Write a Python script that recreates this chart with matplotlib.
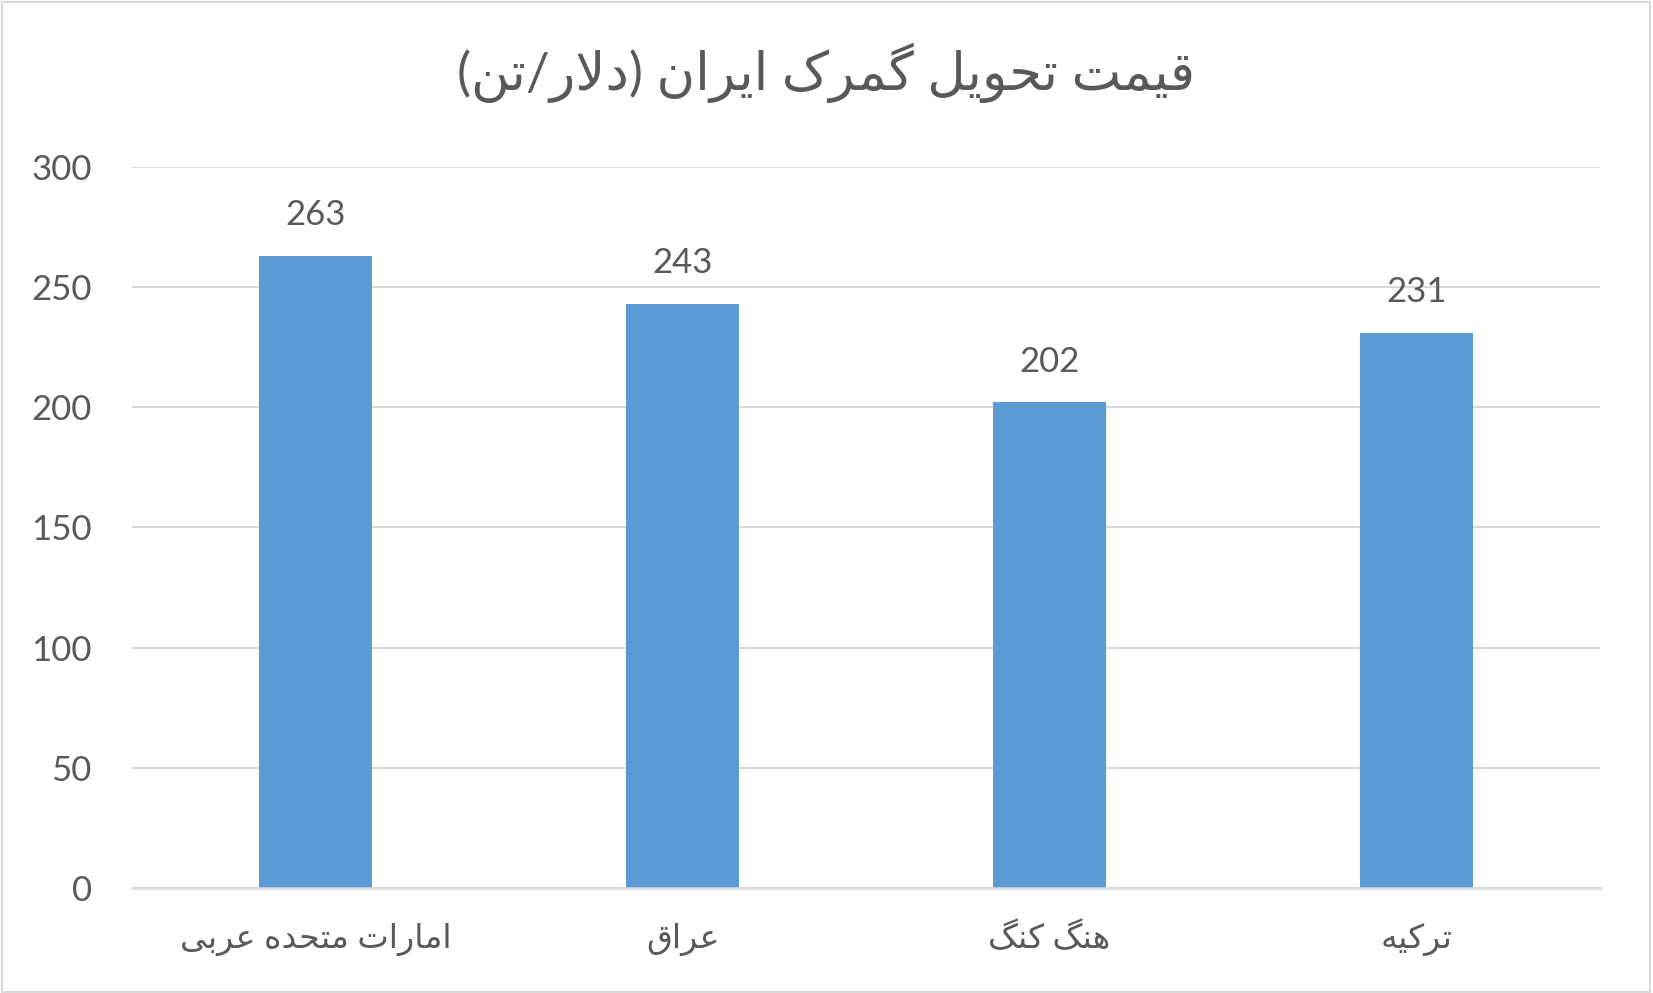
import matplotlib
matplotlib.use("Agg")
import matplotlib.pyplot as plt
from matplotlib.patches import Rectangle

title = "قیمت تحویل گمرک ایران (دلار/تن)"
categories = ["امارات متحده عربی", "عراق", "هنگ کنگ", "ترکیه"]
values = [263, 243, 202, 231]
yticks = [0, 50, 100, 150, 200, 250, 300]

# arabic presentation forms: isolated, final, initial, medial
FORMS = {
    'ا': ('\uFE8D', '\uFE8E', None, None),
    'ب': ('\uFE8F', '\uFE90', '\uFE91', '\uFE92'),
    'ت': ('\uFE95', '\uFE96', '\uFE97', '\uFE98'),
    'ح': ('\uFEA1', '\uFEA2', '\uFEA3', '\uFEA4'),
    'د': ('\uFEA9', '\uFEAA', None, None),
    'ر': ('\uFEAD', '\uFEAE', None, None),
    'ع': ('\uFEC9', '\uFECA', '\uFECB', '\uFECC'),
    'ق': ('\uFED5', '\uFED6', '\uFED7', '\uFED8'),
    'ل': ('\uFEDD', '\uFEDE', '\uFEDF', '\uFEE0'),
    'م': ('\uFEE1', '\uFEE2', '\uFEE3', '\uFEE4'),
    'ن': ('\uFEE5', '\uFEE6', '\uFEE7', '\uFEE8'),
    'ه': ('\uFEE9', '\uFEEA', '\uFEEB', '\uFEEC'),
    'و': ('\uFEED', '\uFEEE', None, None),
    'ک': ('\uFB8E', '\uFB8F', '\uFB90', '\uFB91'),
    'گ': ('\uFB92', '\uFB93', '\uFB94', '\uFB95'),
    'ی': ('\uFBFC', '\uFBFD', '\uFBFE', '\uFBFF'),
}


def joins_next(c):
    return c in FORMS and FORMS[c][2] is not None


def shape(text):
    res = []
    n = len(text)
    i = 0
    while i < n:
        c = text[i]
        if c not in FORMS:
            res.append(c)
            i += 1
            continue
        prev = text[i - 1] if i > 0 else None
        cp = prev is not None and joins_next(prev)
        if c == 'ل' and i + 1 < n and text[i + 1] == 'ا':
            res.append('\uFEFC' if cp else '\uFEFB')
            i += 2
            continue
        nxt = text[i + 1] if i + 1 < n else None
        cn = joins_next(c) and nxt in FORMS
        iso, fin, ini, med = FORMS[c]
        if cp and cn:
            g = med
        elif cp:
            g = fin
        elif cn:
            g = ini
        else:
            g = iso
        res.append(g)
        i += 1
    vis = ''.join(reversed(res))
    return vis.translate(str.maketrans('()', ')('))


text_color = '#595959'
grid_color = '#D9D9D9'
bar_color = '#5B9BD5'
fonts = ['Lato', 'DejaVu Sans']

fig = plt.figure(figsize=(16.53, 9.93), dpi=100)
ax = fig.add_axes([0.0799, 0.1057, 0.968 - 0.0799, 0.832 - 0.1057])

x = list(range(len(categories)))
bars = ax.bar(x, values, width=0.31, color=bar_color, zorder=2)

ax.set_xlim(-0.5, len(categories) - 0.5)
ax.set_ylim(0, 300)
ax.set_yticks(yticks)
ax.set_yticklabels([str(t) for t in yticks], family=fonts, fontsize=25, color=text_color)
ax.set_xticks(x)
ax.set_xticklabels([shape(c) for c in categories], family=fonts, fontsize=24, color=text_color)
ax.tick_params(axis='y', length=0, pad=29)
ax.tick_params(axis='x', length=0, pad=25)
ax.yaxis.grid(True, color=grid_color, lw=1.5, zorder=0)
ax.set_axisbelow(True)
for s in ['top', 'right', 'left']:
    ax.spines[s].set_visible(False)
ax.spines['bottom'].set_color(grid_color)
ax.spines['bottom'].set_linewidth(1.8)
ax.spines['bottom'].set_zorder(3)

for b, v in zip(bars, values):
    ax.annotate(str(v), (b.get_x() + b.get_width() / 2, v), xytext=(0, 22),
                textcoords='offset points', ha='center', va='baseline',
                family=fonts, fontsize=25, color=text_color)

fig.text(0.5, 0.927, shape(title), ha='center', va='center',
         family=fonts, fontsize=38, color=text_color)

fig.patches.append(Rectangle((0.001, 0.001), 0.997, 0.997, transform=fig.transFigure,
                             fill=False, edgecolor=grid_color, lw=1.5))

fig.savefig('out.png', dpi=100)
